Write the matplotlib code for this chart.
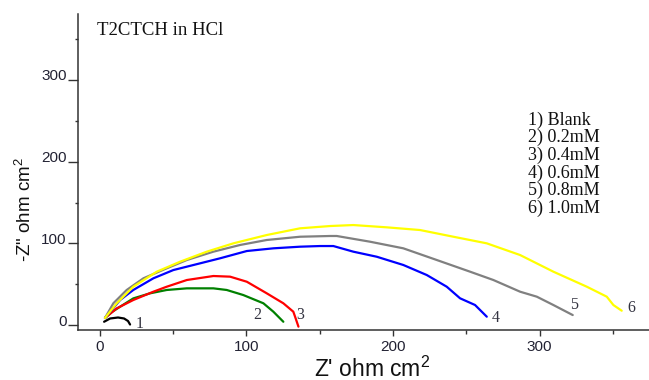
import matplotlib
matplotlib.use("Agg")
import matplotlib.pyplot as plt
import matplotlib.transforms as mtransforms

plt.rcParams['mathtext.fontset'] = 'custom'
plt.rcParams['mathtext.rm'] = 'Liberation Sans'
plt.rcParams['mathtext.default'] = 'regular'

# ---- data ----
blank_x = [3.1, 7.2, 12.6, 16.7, 19.4, 20.8]
blank_y = [4.0, 8.0, 9.2, 8.0, 4.9, 0.6]

c02_x = [3.7, 8.5, 14.0, 23.0, 34.4, 45.8, 59.5, 77.6, 86.7, 98.0, 111.7, 118.5, 125.3]
c02_y = [8.6, 16.0, 22.4, 32.6, 38.8, 42.9, 44.9, 44.9, 42.9, 36.7, 26.6, 16.3, 4.0]

c04_x = [3.7, 11.7, 23.0, 36.7, 45.8, 59.5, 77.6, 89.0, 100.4, 114.0, 125.3, 132.1, 133.3, 135.6]
c04_y = [8.6, 20.4, 30.6, 40.8, 46.9, 55.1, 60.0, 59.2, 53.0, 38.8, 26.6, 16.3, 10.2, -2.0]

c06_x = [3.7, 14.0, 23.0, 36.7, 50.3, 68.5, 82.2, 100.4, 118.5, 136.7, 150.3, 159.4,
         173.0, 189.0, 207.1, 223.1, 236.7, 245.8, 256.0, 264.0]
c06_y = [8.6, 30.6, 42.9, 57.2, 67.3, 75.5, 81.7, 90.6, 93.9, 95.9, 96.7, 96.7,
         89.8, 83.6, 73.5, 61.2, 46.9, 32.7, 24.5, 10.2]

c08_x = [3.7, 9.4, 18.5, 29.9, 45.8, 59.5, 77.6, 95.8, 114.0, 136.7, 157.2, 161.7,
         184.4, 207.1, 229.9, 252.6, 268.5, 286.7, 298.1, 309.4, 322.6]
c08_y = [8.6, 26.6, 42.9, 57.2, 69.4, 79.6, 89.8, 98.0, 104.1, 108.1, 109.0, 109.0,
         102.0, 93.9, 79.6, 65.3, 55.1, 40.8, 34.7, 24.5, 12.2]

c10_x = [3.7, 11.7, 23.0, 39.0, 54.9, 73.1, 91.2, 114.0, 136.7, 157.2, 173.0, 195.8,
         218.5, 241.2, 264.0, 286.7, 309.4, 332.2, 345.8, 350.3, 356.0]
c10_y = [8.6, 26.6, 46.9, 65.3, 77.5, 89.8, 100.0, 110.2, 118.4, 121.2, 122.4, 119.6,
         116.3, 108.1, 100.0, 85.7, 65.3, 46.9, 34.7, 24.5, 17.5]

series_x = [blank_x, c02_x, c04_x, c06_x, c08_x, c10_x]
series_y = [blank_y, c02_y, c04_y, c06_y, c08_y, c10_y]
series_colors = ['#000000', '#008000', '#ff0000', '#0000ff', '#808080', '#ffff00']
curve_numbers = ['1', '2', '3', '4', '5', '6']
number_x = [27.4, 107.2, 136.7, 269.9, 323.2, 362.4]
number_y = [1.8, 12.2, 12.2, 9.2, 24.5, 20.8]
legend_lines = ['1) Blank', '2) 0.2mM', '3) 0.4mM', '4) 0.6mM', '5) 0.8mM', '6) 1.0mM']
title_text = 'T2CTCH in HCl'
major_x = [0, 100, 200, 300]
major_y = [0, 100, 200, 300]
minor_x = [50, 150, 250, 350]
minor_y = [50, 150, 250, 350]

fig = plt.figure(figsize=(6.49, 3.80), dpi=100)
ax = fig.add_axes([78/649, 50/380, 571/649, 316/380])

for xs, ys, c in zip(series_x, series_y, series_colors):
    ax.plot(xs, ys, color=c, lw=1.6, solid_joinstyle='round', solid_capstyle='round')

for t, xx, yy in zip(curve_numbers, number_x, number_y):
    ax.text(xx, yy, t, family='Liberation Serif', fontsize=11.5, color='#333340',
            ha='center', va='center')

leg_y0 = 251.0
leg_dy = 21.6
for i, line in enumerate(legend_lines):
    ax.text(292.2, leg_y0 - i*leg_dy, line, family='Liberation Serif', fontsize=13,
            color='#111111', ha='left', va='center')

ax.text(-1.7, 361, title_text, family='Liberation Serif', fontsize=13.5,
        color='#111111', ha='left', va='center')

ax.set_xlim(-14.7, 374.6)
ax.set_ylim(-6.1, 380.8)
ax.set_xticks(major_x)
ax.set_yticks(major_y)
ax.set_xticks(minor_x, minor=True)
ax.set_yticks(minor_y, minor=True)
ax.spines['top'].set_visible(False)
ax.spines['right'].set_visible(False)
for s in ('left', 'bottom'):
    ax.spines[s].set_color('#333333')
    ax.spines[s].set_linewidth(1.1)

ax.tick_params(axis='x', which='major', length=4.5, width=1.0, color='#333333',
               labelsize=11, labelcolor='#222233', pad=3)
ax.tick_params(axis='x', which='minor', length=2.8, width=1.0, color='#333333')
ax.tick_params(axis='y', which='major', length=7.2, width=1.0, color='#333333',
               labelsize=11, labelcolor='#222233', pad=1)
ax.tick_params(axis='y', which='minor', length=2.0, width=1.0, color='#333333')
for lab in ax.get_xticklabels() + ax.get_yticklabels():
    lab.set_family('Liberation Sans')

offset = mtransforms.ScaledTranslation(0, 5/100, fig.dpi_scale_trans)
for lab in ax.get_yticklabels():
    lab.set_transform(lab.get_transform() + offset)

fig.text(372/649, 1 - 376.5/380, "Z' ohm cm$^2$", family='Liberation Sans', fontsize=16.5,
         color='#111111', ha='center', va='baseline')
fig.text(25/649, 1 - 209/380, '-Z" ohm cm$^2$', family='Liberation Sans', fontsize=13.5,
         color='#111111', ha='center', va='center', rotation=90)

fig.savefig('out.png', dpi=100)
